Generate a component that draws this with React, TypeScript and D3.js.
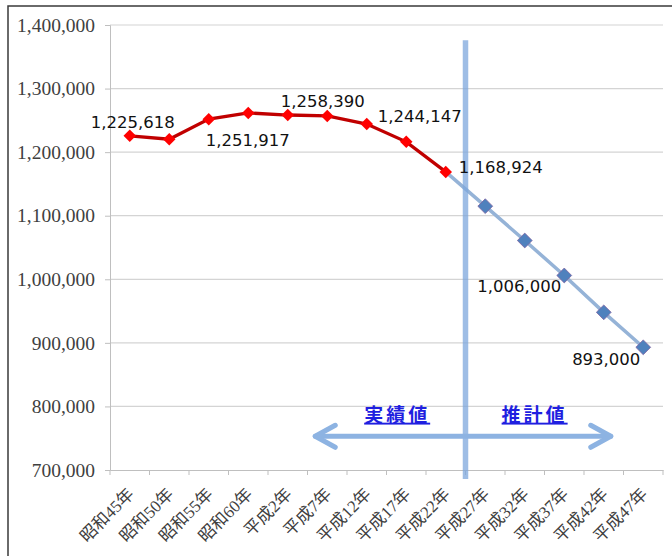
import { useEffect, useRef } from 'react';
import * as d3 from 'd3';

const categories = ['昭和45年', '昭和50年', '昭和55年', '昭和60年', '平成2年', '平成7年', '平成12年',
  '平成17年', '平成22年', '平成27年', '平成32年', '平成37年', '平成42年', '平成47年'];

// actual census values (null = no value)
const actual = [1225618, 1220302, 1251917, 1261662, 1258390, 1256958, 1244147, 1216181, 1168924,
  null, null, null, null, null];
// projection, starts from the last actual point
const projected = [null, null, null, null, null, null, null, null, 1168924,
  1115000, 1061000, 1006000, 948000, 893000];

const yTicks = [700000, 800000, 900000, 1000000, 1100000, 1200000, 1300000, 1400000];

// which points get a value label, and how far the label is moved from the point
const labels = [
  { i: 0, value: 1225618, dx: 3, dy: -8 },
  { i: 2, value: 1251917, dx: 39, dy: 27 },
  { i: 4, value: 1258390, dx: 35, dy: -8 },
  { i: 6, value: 1244147, dx: 53, dy: -2 },
  { i: 8, value: 1168924, dx: 55, dy: 1 },
  { i: 11, value: 1006000, dx: -45, dy: 17 },
  { i: 13, value: 893000, dx: -37, dy: 18 },
];

const App = () => {
  const svgRef = useRef<SVGSVGElement>(null);

  useEffect(() => {
    const width = 672;
    const height = 556;
    const margin = { top: 25, right: 9, bottom: 86, left: 110 };
    const plotW = width - margin.left - margin.right;
    const plotH = height - margin.top - margin.bottom;

    const root = d3.select(svgRef.current);
    root.selectAll('*').remove();
    root.attr('width', width).attr('height', height);

    root.append('rect').attr('width', width).attr('height', height).attr('fill', '#fff');
    // chart border (only top/left visible in the frame)
    root.append('rect')
      .attr('x', 8).attr('y', 6).attr('width', 700).attr('height', 600)
      .attr('fill', 'none').attr('stroke', '#3a3a3a').attr('stroke-width', 1.5);

    const svg = root.append('g').attr('transform', `translate(${margin.left},${margin.top})`);

    const x = d3.scaleBand<string>().domain(categories).range([0, plotW]);
    const y = d3.scaleLinear().domain([700000, 1400000]).range([plotH, 0]);
    const cx = (i: number) => (x(categories[i]) as number) + x.bandwidth() / 2;

    // grid
    svg.append('g').selectAll('line').data(yTicks.slice(1)).enter().append('line')
      .attr('x1', 0).attr('x2', plotW)
      .attr('y1', d => y(d)).attr('y2', d => y(d))
      .attr('stroke', '#d4d4d4').attr('stroke-width', 1.2);

    // y axis
    const yAxis = svg.append('g')
      .call(d3.axisLeft(y).tickValues(yTicks).tickSize(5).tickPadding(10)
        .tickFormat(d => d3.format(',')(d as number)))
      .attr('font-family', 'Liberation Serif')
      .attr('font-size', 19.5);
    yAxis.select('.domain').attr('stroke', '#bfbfbf');
    yAxis.selectAll('.tick line').attr('stroke', '#bfbfbf');
    yAxis.selectAll('.tick text').attr('fill', '#404040');

    // x axis
    const xAxis = svg.append('g').attr('transform', `translate(0,${plotH})`)
      .call(d3.axisBottom(x).tickSize(0).tickSizeOuter(0))
      .attr('font-family', 'Liberation Serif, Noto Sans CJK JP')
      .attr('font-size', 17);
    xAxis.select('.domain').attr('stroke', '#bfbfbf');
    xAxis.selectAll('.tick text')
      .attr('fill', '#404040')
      .attr('text-anchor', 'end')
      .attr('x', 0).attr('y', 0)
      .attr('dy', '0.35em')
      .attr('transform', 'translate(1,21) rotate(-45)');
    // boundary tick marks
    svg.append('g').selectAll('line').data(d3.range(categories.length + 1)).enter().append('line')
      .attr('x1', i => i * x.bandwidth()).attr('x2', i => i * x.bandwidth())
      .attr('y1', plotH).attr('y2', plotH + 5)
      .attr('stroke', '#bfbfbf');

    const diamond = d3.symbol().type(d3.symbolDiamond2);

    // projection line
    const projPts = projected.map((v, i) => ({ v, i })).filter(d => d.v !== null) as { v: number; i: number }[];
    const line = d3.line<{ v: number; i: number }>().x(d => cx(d.i)).y(d => y(d.v));
    svg.append('path').datum(projPts).attr('d', line)
      .attr('fill', 'none').attr('stroke', '#95b3d7').attr('stroke-width', 3.5);

    // divider between actual and projection
    const divX = x(categories[9]) as number;
    svg.append('line')
      .attr('x1', divX).attr('x2', divX)
      .attr('y1', y(1376000)).attr('y2', plotH + 9)
      .attr('stroke', '#7ea7dc').attr('stroke-opacity', 0.75).attr('stroke-width', 5.5);

    // arrow
    const arrowY = y(753000);
    const aL = cx(5) - 14;
    const aR = cx(12) + 9;
    const ag = svg.append('g')
      .attr('stroke', '#8db3e2').attr('stroke-width', 5).attr('stroke-linecap', 'round')
      .attr('stroke-linejoin', 'round').attr('fill', 'none');
    ag.append('line').attr('x1', aL + 2).attr('x2', aR - 2).attr('y1', arrowY).attr('y2', arrowY);
    ag.append('polyline').attr('points', `${aL + 22},${arrowY - 11} ${aL + 2},${arrowY} ${aL + 22},${arrowY + 11}`);
    ag.append('polyline').attr('points', `${aR - 22},${arrowY - 11} ${aR - 2},${arrowY} ${aR - 22},${arrowY + 11}`);

    svg.append('g').selectAll('path').data(projPts.filter(d => d.i > 8)).enter().append('path')
      .attr('d', diamond.size(140)())
      .attr('transform', d => `translate(${cx(d.i)},${y(d.v)})`)
      .attr('fill', '#4f81bd').attr('stroke', '#8064a2').attr('stroke-width', 0.8);

    // actual line
    const actPts = actual.map((v, i) => ({ v, i })).filter(d => d.v !== null) as { v: number; i: number }[];
    svg.append('path').datum(actPts).attr('d', line)
      .attr('fill', 'none').attr('stroke', '#c00000').attr('stroke-width', 3.3);
    svg.append('g').selectAll('path').data(actPts).enter().append('path')
      .attr('d', diamond.size(100)())
      .attr('transform', d => `translate(${cx(d.i)},${y(d.v)})`)
      .attr('fill', '#ff0000');

    // value labels
    svg.append('g').selectAll('text').data(labels).enter().append('text')
      .attr('x', d => cx(d.i) + d.dx)
      .attr('y', d => y(d.value) + d.dy)
      .attr('text-anchor', 'middle')
      .attr('fill', '#111')
      .style('font-family', '"DejaVu Sans", sans-serif')
      .style('font-size', '16.5px')
      .text(d => d3.format(',')(d.value));

    // period captions
    const captions = [
      { text: '実績値', at: 7.27 },
      { text: '推計値', at: 10.75 },
    ];
    svg.append('g').selectAll('text').data(captions).enter().append('text')
      .attr('x', d => d.at * x.bandwidth())
      .attr('y', y(776000))
      .attr('text-anchor', 'middle')
      .attr('fill', '#1f1fe0')
      .attr('font-weight', 'bold')
      .attr('text-decoration', 'underline')
      .attr('letter-spacing', '3px')
      .style('font-family', '"Noto Sans CJK JP", sans-serif')
      .style('font-size', '19px')
      .text(d => d.text);
  }, []);

  return <svg ref={svgRef} style={{ position: 'absolute', left: 0, top: 0 }}></svg>;
};

export default App;
